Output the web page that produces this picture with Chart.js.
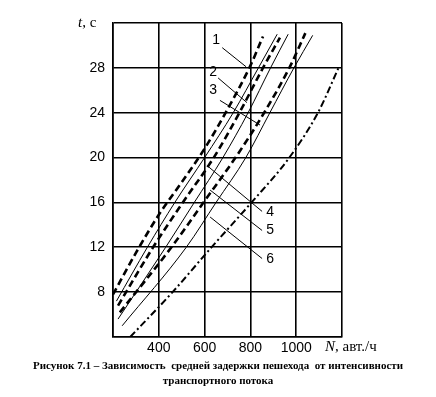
<!DOCTYPE html>
<html>
<head>
<meta charset="utf-8">
<script src="https://cdn.jsdelivr.net/npm/chart.js@4.4.0/dist/chart.umd.min.js"></script>
<style>
  html, body { margin: 0; padding: 0; background: #fff; }
</style>
</head>
<body>
<canvas id="chart" width="436" height="397"></canvas>
<script>
// --- values: N (авт./ч) vs t (с) ---
const xTicks = [400, 600, 800, 1000];
const yTicks = [8, 12, 16, 20, 24, 28];

// thick dashed curves
const c1N = [200, 300, 400, 500, 600, 700, 800, 855];
const c1T = [7.8, 11.5, 14.9, 17.8, 20.8, 24.3, 28.2, 30.8];
const c2N = [222, 375, 505, 640, 752, 855, 929];
const c2T = [6.8, 12, 16, 20, 24, 28, 30.7];
const c3N = [230, 455, 595, 735, 860, 970, 1040];
const c3T = [6.2, 12, 16, 20, 24, 28, 31.1];
// thin curves
const c4N = [215, 350, 470, 600, 725, 835, 917];
const c4T = [7.2, 12, 16, 20, 24, 28, 31];
const c5N = [222, 430, 555, 680, 790, 888, 965];
const c5T = [5.6, 12, 16, 20, 24, 28, 31];
const c6N = [240, 520, 650, 780, 885, 990, 1072];
const c6T = [5.0, 12, 16, 20, 24, 28, 30.9];
// dash-dot curve
const c7N = [275, 460, 630, 805, 970, 1095, 1187];
const c7T = [4.0, 8, 12, 16, 20, 24, 28.1];

// callout numbers and their leader lines
const calloutText = ['1', '2', '3', '4', '5', '6'];
const calloutN = [650, 637, 637, 886, 886, 886];
const calloutT = [30.5, 27.6, 26.0, 15.1, 13.5, 10.9];
const leaderFromN = [677, 659, 667, 851, 851, 851];
const leaderFromT = [29.8, 27.1, 25.1, 15.2, 13.5, 11.0];
const leaderToN = [781, 785, 842, 610, 624, 624];
const leaderToT = [28.1, 24.9, 22.9, 19.3, 17.1, 14.7];

const captionLines = [
    'Рисунок 7.1 – Зависимость  средней задержки пешехода  от интенсивности',
    'транспортного потока'
];

const pts = (ns, ts) => ns.map((n, i) => ({ x: n, y: ts[i] }));

const dashed = (ns, ts) => ({ data: pts(ns, ts), borderColor: '#000', borderWidth: 2.6, borderDash: [7, 4], cubicInterpolationMode: 'monotone' });
const thin = (ns, ts) => ({ data: pts(ns, ts), borderColor: '#000', borderWidth: 1, cubicInterpolationMode: 'monotone' });

const datasets = [
    dashed(c1N, c1T),
    dashed(c2N, c2T),
    dashed(c3N, c3T),
    thin(c4N, c4T),
    thin(c5N, c5T),
    thin(c6N, c6T),
    { data: pts(c7N, c7T), borderColor: '#000', borderWidth: 2, borderDash: [7, 3, 2, 3], cubicInterpolationMode: 'monotone' }
];
leaderFromN.forEach((n, i) => {
    datasets.push({
        data: [{ x: n, y: leaderFromT[i] }, { x: leaderToN[i], y: leaderToT[i] }],
        borderColor: '#000', borderWidth: 1
    });
});

// texts that need mixed italic / regular, numbers and the caption
const textPlugin = {
    id: 'texts',
    afterDraw(chart) {
        const ctx = chart.ctx;
        const xs = chart.scales.x, ys = chart.scales.y;
        ctx.save();
        ctx.fillStyle = '#000';
        ctx.textBaseline = 'middle';

        // y axis title, at the 32 level
        let yTop = ys.getPixelForValue(32);
        ctx.font = 'italic 15px "Liberation Serif"';
        ctx.textAlign = 'left';
        ctx.fillText('t', 78, yTop);
        let w = ctx.measureText('t').width;
        ctx.font = '15px "Liberation Serif"';
        ctx.fillText(', с', 78 + w, yTop);

        // x axis title, near the 1200 position
        let xRow = chart.chartArea.bottom + 10;
        ctx.font = 'italic 15px "Liberation Serif"';
        ctx.fillText('N', 325, xRow);
        w = ctx.measureText('N').width;
        ctx.font = '15px "Liberation Serif"';
        ctx.fillText(', авт./ч', 325 + w, xRow);

        // curve numbers
        ctx.textAlign = 'center';
        ctx.font = '14px "Liberation Sans"';
        calloutText.forEach((s, i) => {
            ctx.fillText(s, xs.getPixelForValue(calloutN[i]), ys.getPixelForValue(calloutT[i]));
        });

        // caption
        ctx.font = 'bold 11px "Liberation Serif"';
        captionLines.forEach((s, i) => {
            ctx.fillText(s, 218, 366 + i * 15);
        });
        ctx.restore();
    }
};

new Chart(document.getElementById('chart'), {
    type: 'scatter',
    data: { datasets },
    options: {
        responsive: false,
        animation: false,
        showLine: true,
        elements: { point: { radius: 0, hoverRadius: 0 } },
        layout: { padding: { top: 23, right: 94, left: 0, bottom: 0 } },
        plugins: { legend: { display: false }, tooltip: { enabled: false } },
        scales: {
            x: {
                type: 'linear', min: 200, max: 1200,
                afterFit: (scale) => { scale.height = 60; },
                ticks: {
                    stepSize: 200, padding: 3, color: '#000',
                    font: { family: '"Liberation Sans"', size: 14 },
                    maxRotation: 0,
                    callback: (v) => xTicks.includes(v) ? v : ''
                },
                grid: { color: '#000', lineWidth: 1.6, drawTicks: false },
                border: { color: '#000', width: 1.6 }
            },
            y: {
                min: 4, max: 32,
                afterFit: (scale) => { scale.width = 113; },
                ticks: {
                    stepSize: 4, padding: 8, color: '#000',
                    font: { family: '"Liberation Sans"', size: 14 },
                    callback: (v) => yTicks.includes(v) ? v : ''
                },
                grid: { color: '#000', lineWidth: 1.6, drawTicks: false },
                border: { color: '#000', width: 1.6 }
            }
        }
    },
    plugins: [textPlugin]
});
</script>
</body>
</html>
